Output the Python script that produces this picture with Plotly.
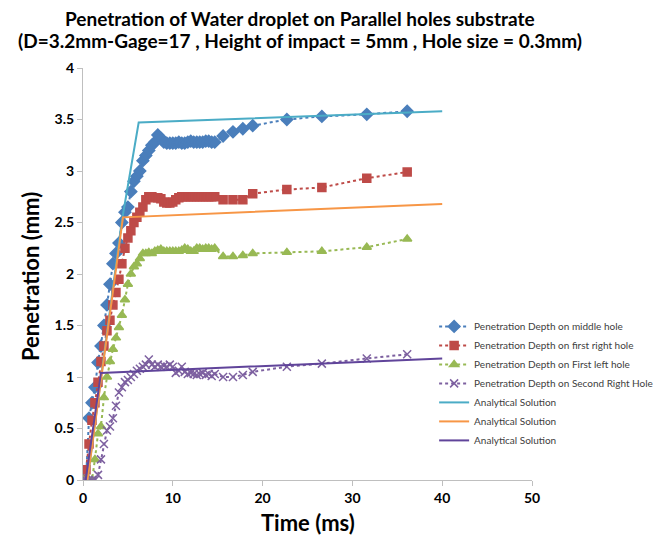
import plotly.graph_objects as go

# ---- data ----
t_exp = [0, 0.33, 0.67, 1.0, 1.33, 1.67, 2.0, 2.33, 2.67, 3.0, 3.33, 3.67, 4.0, 4.33, 4.67,
         5.0, 5.33, 5.67, 6.0, 6.33, 6.67, 7.0, 7.33, 7.67, 8.0, 8.33, 8.67, 9.0, 9.33, 9.67,
         10.0, 10.33, 10.67, 11.0, 11.33, 11.67, 12.0, 12.33, 12.67, 13.0, 13.33, 13.67, 14.0,
         14.33, 14.67, 15.6, 16.7, 17.8, 18.9, 22.7, 26.6, 31.6, 36.1]

middle_hole = [0, 0, 0.6, 0.75, 0.9, 1.14, 1.3, 1.5, 1.7, 1.9, 2.1, 2.2, 2.3, 2.5, 2.6,
               2.65, 2.8, 2.9, 2.95, 3.0, 3.1, 3.15, 3.2, 3.25, 3.28, 3.35, 3.32, 3.28, 3.27, 3.27,
               3.27, 3.27, 3.28, 3.27, 3.27, 3.28, 3.29, 3.28, 3.28, 3.28, 3.28, 3.29, 3.29,
               3.28, 3.28, 3.34, 3.38, 3.41, 3.44, 3.50, 3.53, 3.55, 3.58]

first_right = [0, 0.1, 0.35, 0.58, 0.75, 0.95, 1.15, 1.3, 1.45, 1.55, 1.7, 1.82, 1.95, 2.1, 2.25,
               2.35, 2.42, 2.5, 2.55, 2.6, 2.65, 2.72, 2.75, 2.75, 2.74, 2.74, 2.73, 2.7, 2.69, 2.69,
               2.7, 2.72, 2.74, 2.75, 2.75, 2.75, 2.75, 2.75, 2.75, 2.75, 2.75, 2.75, 2.75,
               2.75, 2.75, 2.72, 2.72, 2.72, 2.78, 2.82, 2.84, 2.93, 2.99]

first_left = [0, 0, 0, 0, 0.2, 0.45, 0.52, 0.8, 1.0, 1.15, 1.27, 1.38, 1.48, 1.6, 1.75,
              1.9, 2.0, 2.07, 2.1, 2.15, 2.2, 2.2, 2.21, 2.2, 2.22, 2.23, 2.24, 2.22, 2.22, 2.22,
              2.22, 2.22, 2.22, 2.23, 2.25, 2.24, 2.22, 2.22, 2.25, 2.25, 2.24, 2.25, 2.25,
              2.24, 2.25, 2.17, 2.17, 2.18, 2.2, 2.21, 2.22, 2.26, 2.34]

second_right = [0, 0, 0, 0, 0, 0.05, 0.2, 0.35, 0.48, 0.52, 0.6, 0.72, 0.85, 0.9, 0.95,
                0.97, 1.0, 1.03, 1.06, 1.08, 1.1, 1.12, 1.17, 1.12, 1.1, 1.12, 1.1, 1.11, 1.1, 1.12,
                1.1, 1.04, 1.06, 1.1, 1.05, 1.03, 1.04, 1.03, 1.02, 1.03, 1.04, 1.02, 1.03,
                1.01, 1.03, 1.0, 1.0, 1.02, 1.05, 1.1, 1.13, 1.18, 1.22]

t_an_cyan = [0.5, 4.3, 6.2, 40]
an_cyan = [0, 2.5, 3.47, 3.58]
t_an_orange = [0.5, 4.45, 40]
an_orange = [0, 2.55, 2.68]
t_an_purple = [0.3, 2.0, 40]
an_purple = [0, 1.04, 1.18]

x_ticks = [0, 10, 20, 30, 40, 50]
y_ticks = [0, 0.5, 1, 1.5, 2, 2.5, 3, 3.5, 4]

title_line1 = "Penetration of Water droplet on Parallel holes substrate"
title_line2 = "(D=3.2mm-Gage=17 , Height of impact = 5mm , Hole size = 0.3mm)"
x_title = "Time (ms)"
y_title = "Penetration (mm)"

FONT = "Lato"

fig = go.Figure()

exp_series = [
    ("Penetration Depth on middle hole", middle_hole, "#4A7EBB", "diamond", 9),
    ("Penetration Depth on first right hole", first_right, "#BE4B48", "square", 8),
    ("Penetration Depth on First left hole", first_left, "#98B954", "triangle-up", 8),
    ("Penetration Depth on Second Right Hole", second_right, "#7D60A0", "x-thin-open", 8),
]
for name, vals, col, sym, sz in exp_series:
    fig.add_trace(go.Scatter(
        x=t_exp, y=vals, name=name, mode="lines+markers",
        line=dict(color=col, width=2, dash="dot"),
        marker=dict(symbol=sym, size=sz, color=col, line=dict(color=col, width=1.5)),
    ))

an_series = [
    (t_an_cyan, an_cyan, "#4BACC6"),
    (t_an_orange, an_orange, "#F79646"),
    (t_an_purple, an_purple, "#60449A"),
]
for tx, vals, col in an_series:
    fig.add_trace(go.Scatter(
        x=tx, y=vals, name="Analytical Solution", mode="lines",
        line=dict(color=col, width=2),
    ))

# page body has an 8px margin, so the figure is offset by 8px
OFF = 8
PLOT_TOP = 68 - OFF
PLOT_LEFT = 83 - OFF
PLOT_H = 412.0
PLOT_W = 449.0
FIG_W = 656
FIG_H = 528

def py(pix):  # screen pixel y -> paper y
    return (480 - pix) / PLOT_H

def px(pix):  # screen pixel x -> paper x
    return (pix - 83) / PLOT_W

annotations = [
    dict(text=f"<b>{title_line1}</b>", x=px(300), y=py(19), xref="paper", yref="paper",
         xanchor="center", yanchor="middle", showarrow=False,
         font=dict(family=FONT, size=19, color="#000000")),
    dict(text=f"<b>{title_line2}</b>", x=px(300), y=py(40), xref="paper", yref="paper",
         xanchor="center", yanchor="middle", showarrow=False,
         font=dict(family=FONT, size=19, color="#000000")),
    dict(text=f"<b>{x_title}</b>", x=px(308), y=py(522), xref="paper", yref="paper",
         xanchor="center", yanchor="middle", showarrow=False,
         font=dict(family=FONT, size=22, color="#000000")),
    dict(text=f"<b>{y_title}</b>", x=px(30), y=py(277), xref="paper", yref="paper",
         xanchor="center", yanchor="middle", showarrow=False, textangle=-90,
         font=dict(family=FONT, size=22, color="#000000")),
]

fig.update_layout(
    width=FIG_W, height=FIG_H,
    margin=dict(l=PLOT_LEFT, r=FIG_W - PLOT_LEFT - PLOT_W, t=PLOT_TOP,
                b=FIG_H - PLOT_TOP - PLOT_H, autoexpand=False),
    paper_bgcolor="white", plot_bgcolor="white",
    font=dict(family=FONT, color="#000000"),
    showlegend=True,
    legend=dict(
        x=0.782, y=0.408, xanchor="left", yanchor="top",
        font=dict(family=FONT, size=10, color="#404040"),
        bgcolor="rgba(255,255,255,0)", tracegroupgap=0,
    ),
    annotations=annotations,
)
fig.update_xaxes(
    range=[0, 50], tickvals=x_ticks, ticktext=[f"<b>{v}</b>" for v in x_ticks],
    showgrid=False, zeroline=False, showline=True, linecolor="#BFBFBF", linewidth=1,
    ticks="outside", ticklen=5, tickcolor="#BFBFBF", automargin=False,
    tickfont=dict(family=FONT, size=14, color="#000000"),
)
fig.update_yaxes(
    range=[0, 4], tickvals=y_ticks, ticktext=[f"<b>{v:g}</b>" for v in y_ticks],
    showgrid=False, zeroline=False, showline=True, linecolor="#BFBFBF", linewidth=1,
    ticks="outside", ticklen=5, tickcolor="#BFBFBF", automargin=False,
    tickfont=dict(family=FONT, size=14, color="#000000"),
)

fig.write_html("out.html")
